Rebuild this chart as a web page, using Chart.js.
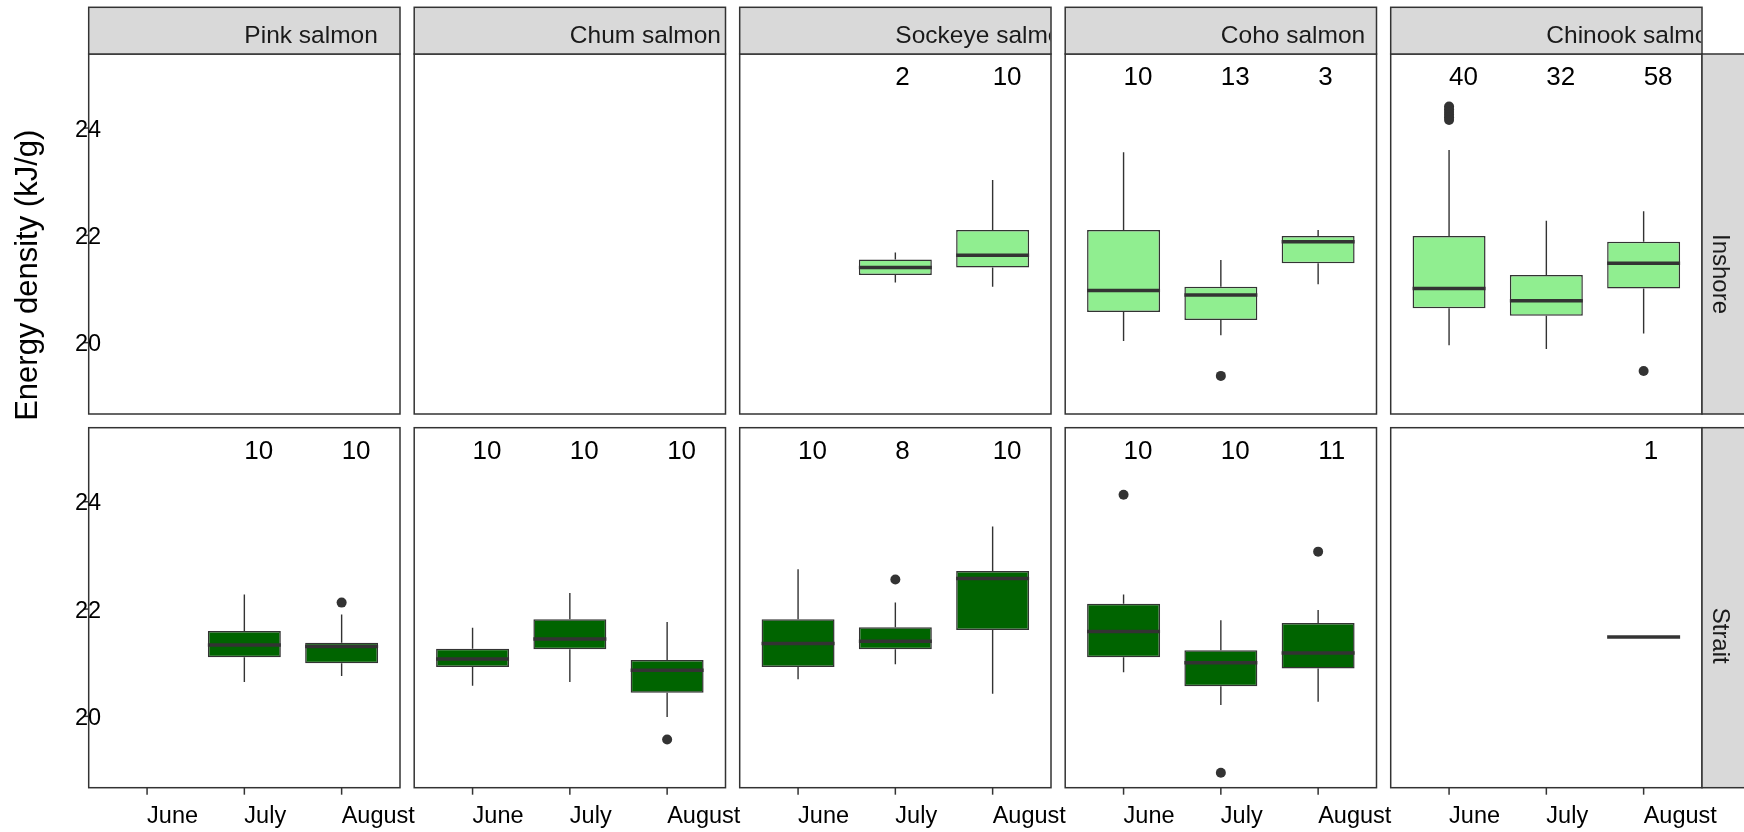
<!DOCTYPE html>
<html>
<head>
<meta charset="utf-8">
<script src="https://cdn.jsdelivr.net/npm/chart.js@4.4.1/dist/chart.umd.min.js"></script>
<style>
  body { margin: 0; background: #fff; }
  #wrap { position: relative; width: 1744px; height: 832px; }
  #wrap canvas { position: absolute; left: 0; top: 0; }
</style>
</head>
<body>
<div id="wrap"></div>
<script>
const species = ['Pink salmon', 'Chum salmon', 'Sockeye salmon', 'Coho salmon', 'Chinook salmon'];
const months = ['June', 'July', 'August'];
const habitats = ['Inshore', 'Strait'];
const yTicks = [20, 22, 24];
const nLabelY = 25;

// one row per species, one column per month (null = no fish caught)
const inshoreN    = [[null, null, null], [null, null, null], [null, 2, 10], [10, 13, 3], [40, 32, 58]];
const inshoreLow  = [[null, null, null], [null, null, null], [null, 21.12, 21.04], [20.03, 20.14, 21.09], [19.95, 19.88, 20.17]];
const inshoreQ1   = [[null, null, null], [null, null, null], [null, 21.26, 21.40], [20.57, 20.42, 21.48], [20.64, 20.50, 21.01]];
const inshoreMed  = [[null, null, null], [null, null, null], [null, 21.40, 21.63], [20.97, 20.89, 21.88], [21.01, 20.78, 21.48]];
const inshoreQ3   = [[null, null, null], [null, null, null], [null, 21.55, 22.10], [22.10, 21.04, 21.99], [21.99, 21.26, 21.88]];
const inshoreHigh = [[null, null, null], [null, null, null], [null, 21.68, 23.03], [23.55, 21.54, 22.10], [23.59, 22.27, 22.45]];
const inshoreOut  = [[[], [], []], [[], [], []], [[], [], []], [[], [19.38], []],
                     [[24.40, 24.35, 24.30, 24.25, 24.20, 24.15], [], [19.47]]];

const straitN    = [[null, 10, 10], [10, 10, 10], [10, 8, 10], [10, 10, 11], [null, null, 1]];
const straitLow  = [[null, 20.64, 20.75], [20.57, 20.64, 19.99], [20.69, 20.97, 20.42], [20.82, 20.21, 20.27], [null, null, 21.48]];
const straitQ1   = [[null, 21.10, 20.99], [20.92, 21.25, 20.44], [20.92, 21.25, 21.61], [21.10, 20.56, 20.89], [null, null, 21.48]];
const straitMed  = [[null, 21.33, 21.30], [21.07, 21.44, 20.86], [21.36, 21.40, 22.57], [21.58, 21.00, 21.18], [null, null, 21.48]];
const straitQ3   = [[null, 21.59, 21.37], [21.26, 21.81, 21.05], [21.81, 21.66, 22.71], [22.10, 21.23, 21.74], [null, null, 21.48]];
const straitHigh = [[null, 22.27, 21.90], [21.65, 22.30, 21.76], [22.74, 22.12, 23.54], [22.27, 21.79, 21.98], [null, null, 21.48]];
const straitOut  = [[[], [], [22.12]], [[], [], [19.57]], [[], [22.55], []], [[24.13], [18.95], [23.07]], [[], [], []]];

// layout
const W = 1744, H = 832;
const panelX0 = 88.7, panelW = 311.3, panelGap = 14.2;
const rowTop = [54, 427.7], panelH = 360;
const stripTop = 7.3;
const fills = ['#90EE90', '#006400'];
const ink = '#333333';
const FONT = '"Liberation Sans", Arial, sans-serif';

function panelPlugin(r, c, st) {
  return {
    id: 'panel' + r + c,
    beforeDatasetsDraw(chart) {
      const ctx = chart.ctx, y = chart.scales.y;
      const bars = chart.getDatasetMeta(0).data;
      ctx.save();
      ctx.strokeStyle = ink;
      ctx.lineWidth = 1.4;
      st.idx.forEach((i, k) => {
        const x = bars[k].x;
        ctx.beginPath();
        ctx.moveTo(x, y.getPixelForValue(st.high[i]));
        ctx.lineTo(x, y.getPixelForValue(st.q3[i]));
        ctx.moveTo(x, y.getPixelForValue(st.q1[i]));
        ctx.lineTo(x, y.getPixelForValue(st.low[i]));
        ctx.stroke();
      });
      ctx.restore();
    },
    afterDatasetsDraw(chart) {
      const ctx = chart.ctx, y = chart.scales.y;
      const bars = chart.getDatasetMeta(0).data;
      ctx.save();
      ctx.strokeStyle = ink;
      ctx.lineWidth = 3.5;
      st.idx.forEach((i, k) => {
        const b = bars[k];
        const py = y.getPixelForValue(st.med[i]);
        ctx.beginPath();
        ctx.moveTo(b.x - b.width / 2, py);
        ctx.lineTo(b.x + b.width / 2, py);
        ctx.stroke();
      });
      ctx.restore();
    },
    afterDraw(chart) {
      const ctx = chart.ctx, a = chart.chartArea;
      const xs = chart.scales.x, ys = chart.scales.y;
      ctx.save();
      ctx.strokeStyle = ink;
      ctx.lineWidth = 1.5;
      ctx.strokeRect(a.left, a.top, a.right - a.left, a.bottom - a.top);

      // n labels
      ctx.fillStyle = '#000';
      ctx.font = '26px ' + FONT;
      ctx.textAlign = 'left';
      ctx.textBaseline = 'alphabetic';
      st.idx.forEach(i => {
        ctx.fillText(String(st.n[i]), xs.getPixelForValue(i), ys.getPixelForValue(nLabelY) + 10.6);
      });

      // top strip
      if (r === 0) {
        ctx.fillStyle = '#D9D9D9';
        ctx.fillRect(a.left, stripTop, a.right - a.left, a.top - stripTop);
        ctx.strokeRect(a.left, stripTop, a.right - a.left, a.top - stripTop);
        ctx.save();
        ctx.beginPath();
        ctx.rect(a.left, stripTop, a.right - a.left - 0.8, a.top - stripTop);
        ctx.clip();
        ctx.fillStyle = '#1A1A1A';
        ctx.font = '24.5px ' + FONT;
        ctx.fillText(species[c], (a.left + a.right) / 2, 43.3);
        ctx.restore();
      }
      // right strip
      if (c === species.length - 1) {
        ctx.fillStyle = '#D9D9D9';
        ctx.fillRect(a.right, a.top, W - a.right + 4, a.bottom - a.top);
        ctx.strokeRect(a.right, a.top, W - a.right + 4, a.bottom - a.top);
        ctx.save();
        ctx.translate(a.right + 10.5, (a.top + a.bottom) / 2);
        ctx.rotate(Math.PI / 2);
        ctx.fillStyle = '#1A1A1A';
        ctx.font = '24px ' + FONT;
        ctx.fillText(habitats[r], 0, 0);
        ctx.restore();
      }
      // x axis
      if (r === habitats.length - 1) {
        ctx.fillStyle = '#000';
        ctx.font = '23.5px ' + FONT;
        months.forEach((m, i) => {
          const px = xs.getPixelForValue(i);
          ctx.beginPath();
          ctx.moveTo(px, a.bottom);
          ctx.lineTo(px, a.bottom + 7);
          ctx.stroke();
          ctx.fillText(m, px, a.bottom + 35.3);
        });
      }
      // y axis
      if (c === 0) {
        ctx.fillStyle = '#000';
        ctx.font = '23.5px ' + FONT;
        yTicks.forEach(t => {
          const py = ys.getPixelForValue(t);
          ctx.beginPath();
          ctx.moveTo(a.left - 5, py);
          ctx.lineTo(a.left, py);
          ctx.stroke();
          ctx.fillText(String(t), a.left - 13.7, py + 8.5);
        });
        if (r === 0) {
          ctx.save();
          ctx.translate(37, (rowTop[0] + rowTop[1] + panelH) / 2);
          ctx.rotate(-Math.PI / 2);
          ctx.font = '31px ' + FONT;
          ctx.fillText('Energy density (kJ/g)', 0, 0);
          ctx.restore();
        }
      }
      ctx.restore();
    }
  };
}

const wrap = document.getElementById('wrap');

habitats.forEach((hab, r) => {
  species.forEach((sp, c) => {
    const src = r === 0
      ? { n: inshoreN, low: inshoreLow, q1: inshoreQ1, med: inshoreMed, q3: inshoreQ3, high: inshoreHigh, out: inshoreOut }
      : { n: straitN, low: straitLow, q1: straitQ1, med: straitMed, q3: straitQ3, high: straitHigh, out: straitOut };
    const st = {
      n: src.n[c], low: src.low[c], q1: src.q1[c], med: src.med[c],
      q3: src.q3[c], high: src.high[c], idx: []
    };
    const boxes = [], outliers = [];
    months.forEach((m, i) => {
      if (st.n[i] == null) return;
      st.idx.push(i);
      boxes.push({ x: i, y: [st.q1[i], st.q3[i]] });
      src.out[c][i].forEach(v => outliers.push({ x: i, y: v }));
    });

    const canvas = document.createElement('canvas');
    canvas.width = W;
    canvas.height = H;
    wrap.appendChild(canvas);

    const left = panelX0 + c * (panelW + panelGap);
    const top = rowTop[r];

    new Chart(canvas, {
      type: 'bar',
      data: {
        datasets: [
          {
            data: boxes,
            backgroundColor: fills[r],
            borderColor: ink,
            borderWidth: 1.5,
            borderSkipped: false,
            barPercentage: 0.75,
            categoryPercentage: 1
          },
          {
            type: 'scatter',
            data: outliers,
            pointRadius: 5,
            pointBackgroundColor: ink,
            pointBorderWidth: 0
          }
        ]
      },
      options: {
        responsive: false,
        animation: false,
        devicePixelRatio: 1,
        events: [],
        layout: {
          padding: { left: left, top: top, right: W - left - panelW, bottom: H - top - panelH }
        },
        plugins: { legend: { display: false }, tooltip: { enabled: false } },
        scales: {
          x: {
            type: 'linear', display: false, offset: false, min: -0.6, max: 2.6,
            afterBuildTicks: s => { s.ticks = months.map((m, i) => ({ value: i })); }
          },
          y: { type: 'linear', display: false, min: 18.67, max: 25.38 }
        }
      },
      plugins: [panelPlugin(r, c, st)]
    });
  });
});
</script>
</body>
</html>
